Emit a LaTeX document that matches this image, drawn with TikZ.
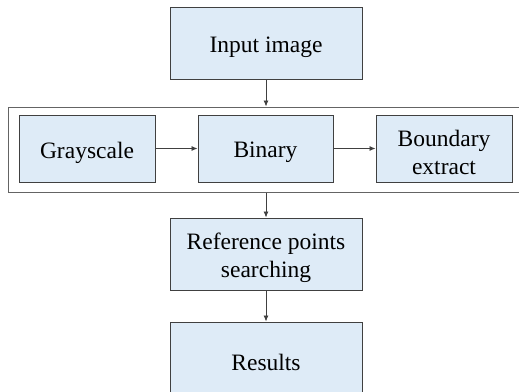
\documentclass[tikz,border=0pt]{standalone}
\usepackage{fontspec}
\setmainfont{Liberation Serif}
\usetikzlibrary{arrows.meta}
\definecolor{boxfill}{RGB}{222,235,247}
\definecolor{boxline}{RGB}{64,64,64}
\definecolor{frameline}{RGB}{100,100,100}
\tikzset{
  stepbox/.style={draw=boxline, line width=1pt, fill=boxfill, inner sep=0pt},
  boxtext/.style={align=center, inner sep=0pt, yshift=-4pt,
    font=\fontsize{23.5}{27.5}\selectfont},
  caption/.style={label={[boxtext]center:#1}},
  wide/.style={minimum width=192pt, minimum height=72pt},
  narrow/.style={minimum width=136pt, minimum height=67pt},
  conn/.style={draw=boxline, line width=0.8pt, -{Latex[length=6pt,width=5pt]}},
}
\begin{document}
\begin{tikzpicture}[x=1pt,y=-1pt]
  \clip (0,0) rectangle (519,391);
  \fill[white] (0,0) rectangle (519,391);
  % outer frame around the preprocessing stage (runs on past the right edge)
  \node (frame) [draw=frameline, line width=1pt, minimum width=552pt,
    minimum height=85pt, inner sep=0pt] at (284,149.5) {};
  \node (input) [stepbox, wide, caption={Input image}] at (266,43) {};
  \node (gray) [stepbox, narrow, caption={Grayscale}] at (87,148.5) {};
  \node (bin) [stepbox, narrow, minimum width=135pt, caption={Binary}] at (265.5,148.5) {};
  \node (bound) [stepbox, narrow, caption={Boundary\\extract}] at (444,148.5) {};
  \node (ref) [stepbox, wide, caption={Reference points\\searching}] at (266,254) {};
  \node (res) [stepbox, wide, caption={Results}] at (266,358) {};
  \draw[conn] (input.south) -- (input.south |- frame.north);
  \draw[conn] (gray.east) -- (bin.west);
  \draw[conn] (bin.east) -- (bound.west);
  \draw[conn] (frame.south -| ref.north) -- (ref.north);
  \draw[conn] (ref.south) -- (res.north);
\end{tikzpicture}
\end{document}
